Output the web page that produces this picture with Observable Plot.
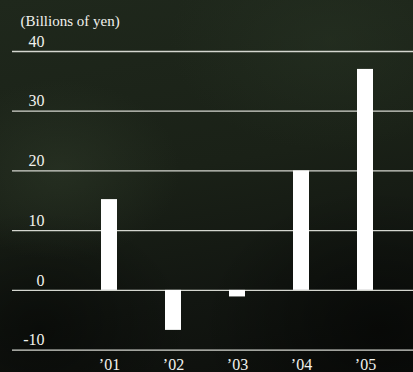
<!DOCTYPE html>
<html>
<head>
<meta charset="utf-8">
<script src="https://cdn.jsdelivr.net/npm/d3@7"></script>
<script src="https://cdn.jsdelivr.net/npm/@observablehq/plot@0.6"></script>
<style>
  html, body { margin: 0; padding: 0; }
  body {
    width: 413px; height: 372px; overflow: hidden;
    background:
      radial-gradient(ellipse 120px 90px at 60px 170px, rgba(50,62,44,0.45), rgba(0,0,0,0)),
      radial-gradient(ellipse 160px 110px at 330px 40px, rgba(40,52,36,0.5), rgba(0,0,0,0)),
      radial-gradient(ellipse 150px 120px at 40px 330px, rgba(0,0,0,0.45), rgba(0,0,0,0)),
      radial-gradient(ellipse 180px 140px at 380px 330px, rgba(0,0,0,0.5), rgba(0,0,0,0)),
      linear-gradient(170deg, #1f281c 0%, #1a2117 45%, #121611 75%, #0d0f0c 100%);
  }
  #chart svg { display: block; }
  #chart svg text { font-family: "Liberation Serif", "Times New Roman", "DejaVu Serif", serif !important; }
</style>
</head>
<body>
<div id="chart"></div>
<script>
const years = ["\u201901", "\u201902", "\u201903", "\u201904", "\u201905"];
const values = [15.2, -6.7, -1.1, 20.0, 37.0];
const yTicks = [-10, 0, 10, 20, 30, 40];
const unitLabel = "(Billions of yen)";

const data = years.map((year, i) => ({year, value: values[i]}));

const chart = Plot.plot({
  width: 413,
  height: 372,
  marginLeft: 12,
  marginRight: 0,
  marginTop: 40,
  marginBottom: 22,
  style: {background: "transparent", color: "#f2f2ee", fontFamily: "'Liberation Serif', serif", fontSize: "16px"},
  x: {domain: years, range: [61, 413], paddingInner: 0.754, paddingOuter: 0.585, axis: null},
  y: {domain: [-10, 40], range: [349.6, 51], axis: null},
  marks: [
    Plot.ruleY(yTicks, {stroke: "#d4d6cf", strokeWidth: 1.3}),
    Plot.barY(data, {x: "year", y: "value", fill: "#ffffff"}),
    Plot.axisY(yTicks, {anchor: "left", label: null, tickFormat: d => String(d), tickSize: 0, tickPadding: 0, textAnchor: "end", dx: 32, dy: -10, fontSize: 16, fill: "#f2f2ee"}),
    Plot.axisX(years, {anchor: "bottom", label: null, tickSize: 0, tickPadding: 0, dy: 8, fontSize: 16, fill: "#f2f2ee"}),
    Plot.text([unitLabel], {frameAnchor: "top-left", dx: 8, dy: -25, textAnchor: "start", fontSize: 15, fill: "#f2f2ee", text: d => d})
  ]
});
document.getElementById("chart").appendChild(chart);
</script>
</body>
</html>
